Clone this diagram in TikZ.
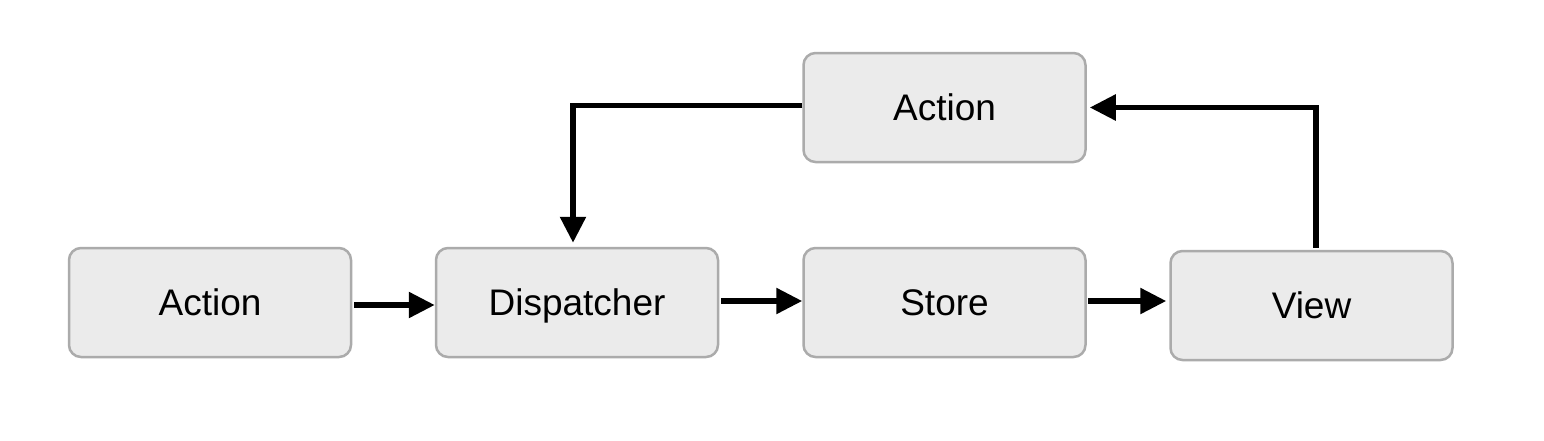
\documentclass[tikz,border=0pt]{standalone}
\usepackage{fontspec}
\setmainfont{Liberation Sans}
\usetikzlibrary{arrows.meta,calc}
\begin{document}
\begin{tikzpicture}[x=1pt,y=-1pt,
  box/.style={draw=boxborder,fill=boxfill,line width=2.5pt,rounded corners=12pt,
    minimum width=282pt,minimum height=109pt,inner sep=0pt,
    text height=26.5pt,text depth=0pt,
    font=\fontsize{37}{42}\selectfont},
  conn/.style={line width=5.5pt,-{Triangle[length=26pt,width=25pt]}}]
\definecolor{boxfill}{HTML}{EBEBEB}
\definecolor{boxborder}{HTML}{ABABAB}
\useasboundingbox (0,0) rectangle (1544,440);
\node[box] (a1) at (210,302.5) {Action};
\node[box] (disp) at (577,302.5) {Dispatcher};
\node[box] (store) at (944.5,302.5) {Store};
\node[box] (view) at (1311.5,305.5) {View};
\node[box] (a2) at (944.5,107.5) {Action};
\coordinate (sv) at ([xshift=1pt,yshift=1.5pt]store.east);
\draw[conn] ([xshift=2pt,yshift=-2.5pt]a1.east) -- ([yshift=-2.5pt]disp.west);
\draw[conn] ([xshift=2pt,yshift=1.5pt]disp.east) -- ([yshift=1.5pt]store.west);
\draw[conn] (sv) -- ([xshift=-3pt]sv -| view.west);
\draw[conn] ([yshift=2pt]a2.west) -| ([xshift=-4pt,yshift=4pt]disp.north);
\draw[conn] ([xshift=4.5pt,yshift=2pt]view.north) |- ([xshift=3pt]a2.east);
\end{tikzpicture}
\end{document}
